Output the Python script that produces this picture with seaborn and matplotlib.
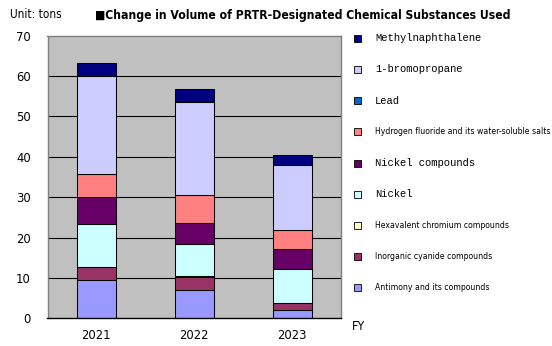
import matplotlib
matplotlib.use('Agg')
import matplotlib.pyplot as plt
import seaborn as sns
import pandas as pd
from matplotlib.patches import Rectangle

years = ['2021', '2022', '2023']
antimony = [9.5, 6.9, 2.0]
cyanide = [3.2, 3.4, 1.9]
chromium = [0.0, 0.1, 0.0]
nickel = [10.6, 8.0, 8.4]
nickel_comp = [6.8, 5.2, 4.8]
hydrogen_fluoride = [5.6, 6.8, 4.7]
lead = [0.0, 0.0, 0.0]
bromopropane = [24.2, 23.2, 16.1]
methylnaphthalene = [3.2, 3.1, 2.5]

series_names = ['Antimony and its compounds', 'Inorganic cyanide compounds',
                'Hexavalent chromium compounds', 'Nickel', 'Nickel compounds',
                'Hydrogen fluoride and its water-soluble salts', 'Lead',
                '1-bromopropane', 'Methylnaphthalene']
series_values = [antimony, cyanide, chromium, nickel, nickel_comp,
                 hydrogen_fluoride, lead, bromopropane, methylnaphthalene]
colors = ['#9999FF', '#993366', '#FFFFCC', '#CCFFFF', '#660066',
          '#FF8080', '#0066CC', '#CCCCFF', '#000080']
mono = [False, False, False, True, True, False, True, True, True]

sns.set_theme(style='white')
NARROW = ['DejaVu Sans']
MONO = ['Liberation Mono', 'DejaVu Sans Mono']
plt.rcParams['font.family'] = NARROW
ST = 'condensed'

W, H = 552, 346
fig = plt.figure(figsize=(W / 100, H / 100), dpi=100)
fig.patch.set_facecolor('white')
ax = fig.add_axes([47.5 / W, 1 - 318.3 / H, (341 - 47.5) / W, (318.3 - 35.5) / H])
ax.set_facecolor('#C0C0C0')

bottoms = [0.0, 0.0, 0.0]
for name, vals, col in zip(series_names, series_values, colors):
    df = pd.DataFrame({'year': years, 'value': vals})
    sns.barplot(data=df, x='year', y='value', color=col, width=0.4,
                edgecolor='black', linewidth=0.75, bottom=bottoms, ax=ax,
                saturation=1, errorbar=None, zorder=3)
    bottoms = [b + v for b, v in zip(bottoms, vals)]

ax.set_xlim(-0.5, 2.5)
ax.set_ylim(0, 70)
ax.set_yticks(range(0, 71, 10))
ax.set_xlabel('')
ax.set_ylabel('')
for y in range(10, 70, 10):
    ax.axhline(y, color='black', lw=0.8, zorder=1)
for s in ['top', 'right', 'left']:
    ax.spines[s].set_color('#808080')
    ax.spines[s].set_linewidth(1.0)
ax.spines['bottom'].set_color('black')
ax.spines['bottom'].set_linewidth(1.0)
ax.spines['bottom'].set_zorder(5)

ax.tick_params(axis='y', length=0, pad=12, labelsize=9.3)
ax.tick_params(axis='x', which='major', length=0, pad=8, labelsize=9.3)
ax.set_xticks([0.5, 1.5], minor=True)
ax.tick_params(axis='x', which='minor', direction='in', length=3, color='black', width=0.8)
for lab in ax.get_xticklabels() + ax.get_yticklabels():
    lab.set_fontfamily(NARROW)
    lab.set_fontstretch(ST)
    lab.set_color('black')

fig.text(10 / W, 1 - 15 / H, 'Unit: tons', fontsize=8.5, va='center', ha='left',
         family=NARROW, fontstretch=ST, color='black')
fig.text(95 / W, 1 - 15 / H, '\u25a0Change in Volume of PRTR-Designated Chemical Substances Used',
         fontsize=8.7, fontweight='bold', va='center', ha='left', family=NARROW,
         fontstretch=ST, color='black')
fig.text(352 / W, 1 - 327 / H, 'FY', fontsize=9, va='center', ha='left', family=NARROW,
         fontstretch=ST, color='black')

# legend (top to bottom is reverse of stacking order)
n = len(series_names)
for i in range(n):
    k = n - 1 - i
    ypx = 38.3 + i * 31.2
    fig.patches.append(Rectangle((354 / W, 1 - (ypx + 3.5) / H), 7 / W, 7 / H,
                                 facecolor=colors[k], edgecolor='black', lw=0.6,
                                 transform=fig.transFigure, figure=fig))
    if mono[k]:
        fig.text(375 / W, 1 - ypx / H, series_names[k], fontsize=7.6, va='center',
                 ha='left', family=MONO, color='black')
    else:
        fig.text(375 / W, 1 - ypx / H, series_names[k], fontsize=6.2, va='center',
                 ha='left', family=NARROW, fontstretch=ST, color='black')

fig.savefig('out.png', dpi=100)
